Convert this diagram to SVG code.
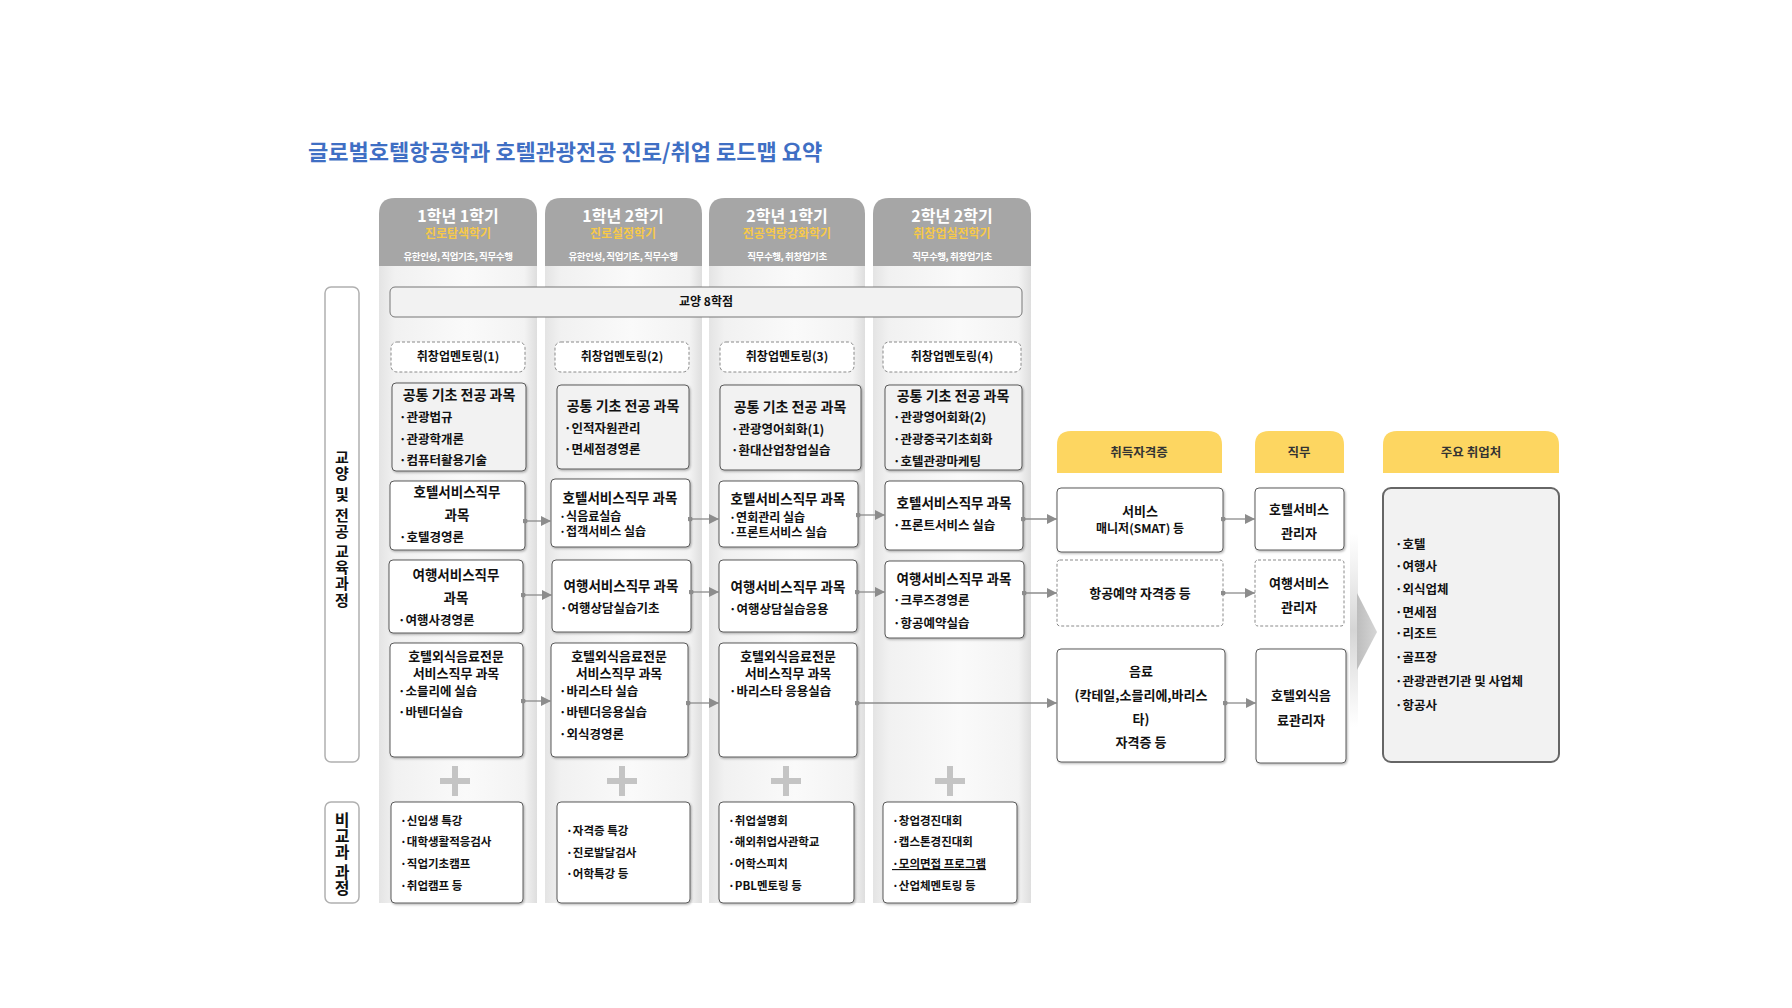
<svg xmlns="http://www.w3.org/2000/svg" width="1792" height="1008" viewBox="0 0 1792 1008">
<style>
text{font-family:"Noto Sans CJK KR","Noto Sans",sans-serif;fill:#111;}
.title{font-size:22px;font-weight:700;fill:#3f6fc4;}
.hd1{font-size:16px;font-weight:700;fill:#fff;text-anchor:middle;}
.hd2{font-size:12px;font-weight:700;fill:#f7c948;text-anchor:middle;}
.hd3{font-size:9.5px;font-weight:700;fill:#fff;text-anchor:middle;letter-spacing:-0.4px;}
.c{text-anchor:middle;}
.bt{font-size:13.5px;font-weight:700;}
.bf{font-size:13px;font-weight:700;}
.bt13{font-size:14px;font-weight:700;}
.it{font-size:12.5px;font-weight:700;}
.it3{font-size:12px;font-weight:700;}
.it2{font-size:11.5px;font-weight:700;}
.mt{font-size:12px;font-weight:700;}
.vt{font-size:15px;font-weight:700;writing-mode:vertical-rl;letter-spacing:1.1px;}
.vt2{font-size:16px;font-weight:700;writing-mode:vertical-rl;}
.rh{font-size:12.5px;font-weight:700;fill:#333;text-anchor:middle;}
.rt{font-size:13px;font-weight:700;text-anchor:middle;}
.di{font-size:12.5px;font-weight:700;}
.card{fill:#fff;stroke:#5a5a5a;stroke-width:1;filter:url(#sh);}
.gcard{fill:#f2f2f2;stroke:#5a5a5a;stroke-width:1;filter:url(#sh);}
.dash{fill:#fff;stroke:#8a8a8a;stroke-width:1;stroke-dasharray:3 2;}
.hdr{fill:#a6a6a6;}
.ybar{fill:#fdd661;}
.colbg{fill:url(#colg);}
.conn{stroke:#8c8c8c;stroke-width:1.3;fill:none;marker-start:url(#dot);marker-end:url(#ah);}
.plus{fill:#c4c4c4;}
.side{fill:#fff;stroke:#b0b0b0;stroke-width:1.5;}
</style>
<defs>
<linearGradient id="colg" x1="0" y1="0" x2="1" y2="0">
<stop offset="0" stop-color="#e4e4e4"/>
<stop offset="0.1" stop-color="#f1f1f1"/>
<stop offset="0.55" stop-color="#fafafa"/>
<stop offset="0.92" stop-color="#f3f3f3"/>
<stop offset="1" stop-color="#dedede"/>
</linearGradient>
<linearGradient id="strip" x1="0" y1="0" x2="0" y2="1">
<stop offset="0" stop-color="#d8d8d8" stop-opacity="0"/>
<stop offset="0.5" stop-color="#d0d0d0" stop-opacity="0.9"/>
<stop offset="1" stop-color="#d8d8d8" stop-opacity="0"/>
</linearGradient>
<linearGradient id="tri" x1="0" y1="0" x2="1" y2="0">
<stop offset="0" stop-color="#bdbdbd"/>
<stop offset="1" stop-color="#d6d6d6"/>
</linearGradient>
<filter id="sh" x="-5%" y="-5%" width="115%" height="120%">
<feDropShadow dx="1" dy="1.2" stdDeviation="0.9" flood-color="#000" flood-opacity="0.3"/>
</filter>
<marker id="ah" viewBox="0 0 10 10" refX="10" refY="5" markerWidth="11" markerHeight="10" markerUnits="userSpaceOnUse" orient="auto">
<path d="M0,0 L10,5 L0,10 z" fill="#8c8c8c"/>
</marker>
<marker id="dot" viewBox="0 0 6 6" refX="3" refY="3" markerWidth="5" markerHeight="5" markerUnits="userSpaceOnUse">
<circle cx="3" cy="3" r="3" fill="#8c8c8c"/>
</marker>
</defs>

<rect width="1792" height="1008" fill="#fff"/>

<text class="title" x="308" y="160">글로벌호텔항공학과 호텔관광전공 진로/취업 로드맵 요약</text>

<!-- column backgrounds and headers -->
<g id="semester-columns">
<g id="sem1">
<path class="colbg" d="M379,266 H537 V903 H379 Z"/>
<path class="hdr" d="M379,266 V214 Q379,198 395,198 H521 Q537,198 537,214 V266 Z"/>
<text class="hd1" x="458" y="222">1학년 1학기</text>
<text class="hd2" x="458" y="238">진로탐색학기</text>
<text class="hd3" x="458" y="260">유한인성, 직업기초, 직무수행</text>
</g>
<g id="sem2">
<path class="colbg" d="M545,266 H702 V903 H545 Z"/>
<path class="hdr" d="M545,266 V214 Q545,198 561,198 H686 Q702,198 702,214 V266 Z"/>
<text class="hd1" x="623" y="222">1학년 2학기</text>
<text class="hd2" x="623" y="238">진로설정학기</text>
<text class="hd3" x="623" y="260">유한인성, 직업기초, 직무수행</text>
</g>
<g id="sem3">
<path class="colbg" d="M709,266 H865 V903 H709 Z"/>
<path class="hdr" d="M709,266 V214 Q709,198 725,198 H849 Q865,198 865,214 V266 Z"/>
<text class="hd1" x="787" y="222">2학년 1학기</text>
<text class="hd2" x="787" y="238">전공역량강화학기</text>
<text class="hd3" x="787" y="260">직무수행, 취창업기초</text>
</g>
<g id="sem4">
<path class="colbg" d="M873,266 H1031 V903 H873 Z"/>
<path class="hdr" d="M873,266 V214 Q873,198 889,198 H1015 Q1031,198 1031,214 V266 Z"/>
<text class="hd1" x="952" y="222">2학년 2학기</text>
<text class="hd2" x="952" y="238">취창업실전학기</text>
<text class="hd3" x="952" y="260">직무수행, 취창업기초</text>
</g>
</g>

<!-- side labels -->
<g id="label-curriculum">
<rect class="side" x="325" y="287" width="34" height="475" rx="6"/>
<text class="vt" x="342" y="450">교양 및 전공 교육과정</text>
</g>
<g id="label-extracurricular">
<rect class="side" x="325" y="802" width="34" height="101" rx="6"/>
<text class="vt2" x="342" y="812">비교과 과정</text>
</g>

<g id="liberal-arts">
<rect x="390" y="287" width="632" height="30" rx="5" fill="#f2f2f2" stroke="#777" stroke-width="1"/>
<text class="mt c" x="706" y="306">교양 8학점</text>
</g>

<!-- mentoring -->
<g id="mentor1"><rect class="dash" x="391" y="342" width="134" height="30" rx="6"/><text class="mt c" x="458" y="361">취창업멘토링(1)</text></g>
<g id="mentor2"><rect class="dash" x="555" y="342" width="134" height="30" rx="6"/><text class="mt c" x="622" y="361">취창업멘토링(2)</text></g>
<g id="mentor3"><rect class="dash" x="720" y="342" width="134" height="30" rx="6"/><text class="mt c" x="787" y="361">취창업멘토링(3)</text></g>
<g id="mentor4"><rect class="dash" x="883" y="342" width="138" height="30" rx="6"/><text class="mt c" x="952" y="361">취창업멘토링(4)</text></g>

<!-- common foundation -->
<g id="common1">
<rect class="gcard" x="392" y="383" width="134" height="88" rx="4"/>
<text class="bt13 c" x="459" y="400">공통 기초 전공 과목</text>
<text class="it" x="399" y="422">·관광법규</text>
<text class="it" x="399" y="444">·관광학개론</text>
<text class="it" x="399" y="465">·컴퓨터활용기술</text>
</g>
<g id="common2">
<rect class="gcard" x="557" y="385" width="132" height="84" rx="4"/>
<text class="bt13 c" x="623" y="411">공통 기초 전공 과목</text>
<text class="it" x="564" y="433">·인적자원관리</text>
<text class="it" x="564" y="454">·면세점경영론</text>
</g>
<g id="common3">
<rect class="gcard" x="720" y="385" width="141" height="85" rx="4"/>
<text class="bt13 c" x="790" y="412">공통 기초 전공 과목</text>
<text class="it" x="731" y="434">·관광영어회화(1)</text>
<text class="it" x="731" y="455">·환대산업창업실습</text>
</g>
<g id="common4">
<rect class="gcard" x="885" y="385" width="137" height="85" rx="4"/>
<text class="bt13 c" x="953" y="401">공통 기초 전공 과목</text>
<text class="it" x="893" y="422">·관광영어회화(2)</text>
<text class="it" x="893" y="444">·관광중국기초회화</text>
<text class="it" x="893" y="466">·호텔관광마케팅</text>
</g>

<!-- hotel service -->
<g id="hotel1">
<rect class="card" x="390" y="481" width="135" height="69" rx="4"/>
<text class="bt c" x="457" y="497">호텔서비스직무</text>
<text class="bt c" x="457" y="520">과목</text>
<text class="it" x="399" y="542">·호텔경영론</text>
</g>
<g id="hotel2">
<rect class="card" x="551" y="479" width="139" height="68" rx="4"/>
<text class="bt c" x="620" y="503">호텔서비스직무 과목</text>
<text class="it3" x="559" y="521">·식음료실습</text>
<text class="it3" x="559" y="536">·접객서비스 실습</text>
</g>
<g id="hotel3">
<rect class="card" x="719" y="481" width="139" height="66" rx="4"/>
<text class="bt c" x="788" y="504">호텔서비스직무 과목</text>
<text class="it3" x="729" y="522">·연회관리 실습</text>
<text class="it3" x="729" y="537">·프론트서비스 실습</text>
</g>
<g id="hotel4">
<rect class="card" x="885" y="481" width="138" height="69" rx="4"/>
<text class="bt c" x="954" y="508">호텔서비스직무 과목</text>
<text class="it" x="893" y="530">·프론트서비스 실습</text>
</g>

<!-- travel service -->
<g id="travel1">
<rect class="card" x="389" y="560" width="134" height="73" rx="4"/>
<text class="bt c" x="456" y="580">여행서비스직무</text>
<text class="bt c" x="456" y="603">과목</text>
<text class="it" x="398" y="625">·여행사경영론</text>
</g>
<g id="travel2">
<rect class="card" x="552" y="560" width="139" height="72" rx="4"/>
<text class="bt c" x="621" y="591">여행서비스직무 과목</text>
<text class="it" x="560" y="613">·여행상담실습기초</text>
</g>
<g id="travel3">
<rect class="card" x="719" y="560" width="138" height="72" rx="4"/>
<text class="bt c" x="788" y="592">여행서비스직무 과목</text>
<text class="it" x="729" y="614">·여행상담실습응용</text>
</g>
<g id="travel4">
<rect class="card" x="885" y="561" width="139" height="77" rx="4"/>
<text class="bt c" x="954" y="584">여행서비스직무 과목</text>
<text class="it" x="893" y="605">·크루즈경영론</text>
<text class="it" x="893" y="628">·항공예약실습</text>
</g>

<!-- F&B -->
<g id="fnb1">
<rect class="card" x="390" y="643" width="133" height="114" rx="4"/>
<text class="bf c" x="456" y="661">호텔외식음료전문</text>
<text class="bf c" x="456" y="678">서비스직무 과목</text>
<text class="it" x="398" y="696">·소믈리에 실습</text>
<text class="it" x="398" y="717">·바텐더실습</text>
</g>
<g id="fnb2">
<rect class="card" x="551" y="643" width="137" height="114" rx="4"/>
<text class="bf c" x="619" y="661">호텔외식음료전문</text>
<text class="bf c" x="619" y="678">서비스직무 과목</text>
<text class="it" x="559" y="696">·바리스타 실습</text>
<text class="it" x="559" y="717">·바텐더응용실습</text>
<text class="it" x="559" y="739">·외식경영론</text>
</g>
<g id="fnb3">
<rect class="card" x="719" y="643" width="138" height="114" rx="4"/>
<text class="bf c" x="788" y="661">호텔외식음료전문</text>
<text class="bf c" x="788" y="678">서비스직무 과목</text>
<text class="it" x="729" y="696">·바리스타 응용실습</text>
</g>

<!-- plus signs -->
<g id="plus-signs">
<rect class="plus" x="440" y="778" width="30" height="6"/><rect class="plus" x="452" y="766" width="6" height="30"/>
<rect class="plus" x="607" y="778" width="30" height="6"/><rect class="plus" x="619" y="766" width="6" height="30"/>
<rect class="plus" x="771" y="778" width="30" height="6"/><rect class="plus" x="783" y="766" width="6" height="30"/>
<rect class="plus" x="935" y="778" width="30" height="6"/><rect class="plus" x="947" y="766" width="6" height="30"/>
</g>

<!-- extracurricular -->
<g id="extra1">
<rect class="card" x="391" y="802" width="132" height="101" rx="4"/>
<text class="it2" x="400" y="825">·신입생 특강</text>
<text class="it2" x="400" y="846">·대학생활적응검사</text>
<text class="it2" x="400" y="868">·직업기초캠프</text>
<text class="it2" x="400" y="890">·취업캠프 등</text>
</g>
<g id="extra2">
<rect class="card" x="557" y="802" width="133" height="101" rx="4"/>
<text class="it2" x="566" y="835">·자격증 특강</text>
<text class="it2" x="566" y="857">·진로발달검사</text>
<text class="it2" x="566" y="878">·어학특강 등</text>
</g>
<g id="extra3">
<rect class="card" x="719" y="802" width="135" height="101" rx="4"/>
<text class="it2" x="728" y="825">·취업설명회</text>
<text class="it2" x="728" y="846">·해외취업사관학교</text>
<text class="it2" x="728" y="868">·어학스피치</text>
<text class="it2" x="728" y="890">·PBL멘토링 등</text>
</g>
<g id="extra4">
<rect class="card" x="883" y="802" width="134" height="101" rx="4"/>
<text class="it2" x="892" y="825">·창업경진대회</text>
<text class="it2" x="892" y="846">·캡스톤경진대회</text>
<text class="it2" x="892" y="868" text-decoration="underline">·모의면접 프로그램</text>
<text class="it2" x="892" y="890">·산업체멘토링 등</text>
</g>

<!-- right side headers -->
<g id="hdr-cert"><path class="ybar" d="M1057,473 V445 Q1057,431 1071,431 H1208 Q1222,431 1222,445 V473 Z"/><text class="rh" x="1139" y="457">취득자격증</text></g>
<g id="hdr-job"><path class="ybar" d="M1255,473 V445 Q1255,431 1269,431 H1330 Q1344,431 1344,445 V473 Z"/><text class="rh" x="1299" y="457">직무</text></g>
<g id="hdr-dest"><path class="ybar" d="M1383,473 V445 Q1383,431 1397,431 H1545 Q1559,431 1559,445 V473 Z"/><text class="rh" x="1471" y="457">주요 취업처</text></g>

<g id="cert1">
<rect class="card" x="1057" y="488" width="166" height="64" rx="4"/>
<text class="rt" x="1140" y="516">서비스</text>
<text class="rt" x="1140" y="533" style="font-size:12px">매니저(SMAT) 등</text>
</g>
<g id="cert2">
<rect class="dash" x="1057" y="560" width="166" height="66" rx="3"/>
<text class="rt" x="1140" y="598">항공예약 자격증 등</text>
</g>
<g id="cert3">
<rect class="card" x="1057" y="649" width="168" height="113" rx="4"/>
<text class="rt" x="1141" y="676">음료</text>
<text class="rt" x="1141" y="700">(칵테일,소믈리에,바리스</text>
<text class="rt" x="1141" y="724">타)</text>
<text class="rt" x="1141" y="747">자격증 등</text>
</g>
<g id="job1">
<rect class="card" x="1255" y="488" width="89" height="62" rx="4"/>
<text class="rt" x="1299" y="514">호텔서비스</text>
<text class="rt" x="1299" y="538">관리자</text>
</g>
<g id="job2">
<rect class="dash" x="1255" y="560" width="89" height="66" rx="3"/>
<text class="rt" x="1299" y="588">여행서비스</text>
<text class="rt" x="1299" y="612">관리자</text>
</g>
<g id="job3">
<rect class="card" x="1256" y="649" width="90" height="114" rx="4"/>
<text class="rt" x="1301" y="700">호텔외식음</text>
<text class="rt" x="1301" y="725">료관리자</text>
</g>

<g id="big-arrow">
<rect x="1350" y="533" width="8" height="194" fill="url(#strip)"/>
<polygon points="1357,593 1377,632 1357,670" fill="url(#tri)"/>
</g>

<g id="dest">
<rect x="1383" y="488" width="176" height="274" rx="8" fill="#f2f2f2" stroke="#666" stroke-width="2"/>
<text class="di" x="1395" y="549">·호텔</text>
<text class="di" x="1395" y="571">·여행사</text>
<text class="di" x="1395" y="594">·외식업체</text>
<text class="di" x="1395" y="617">·면세점</text>
<text class="di" x="1395" y="638">·리조트</text>
<text class="di" x="1395" y="662">·골프장</text>
<text class="di" x="1395" y="686">·관광관련기관 및 사업체</text>
<text class="di" x="1395" y="710">·항공사</text>
</g>

<!-- connectors -->
<g id="connectors">
<path class="conn" d="M525,521 H551"/>
<path class="conn" d="M690,519 H719"/>
<path class="conn" d="M858,515 H885"/>
<path class="conn" d="M1023,519 H1057"/>
<path class="conn" d="M523,595 H552"/>
<path class="conn" d="M691,592 H719"/>
<path class="conn" d="M857,592 H885"/>
<path class="conn" d="M1024,593 H1057"/>
<path class="conn" d="M523,701 H551"/>
<path class="conn" d="M688,703 H719"/>
<path class="conn" d="M857,703 H1057"/>
<path class="conn" d="M1223,519 H1255"/>
<path class="conn" d="M1223,593 H1255"/>
<path class="conn" d="M1225,703 H1256"/>
</g>
</svg>
